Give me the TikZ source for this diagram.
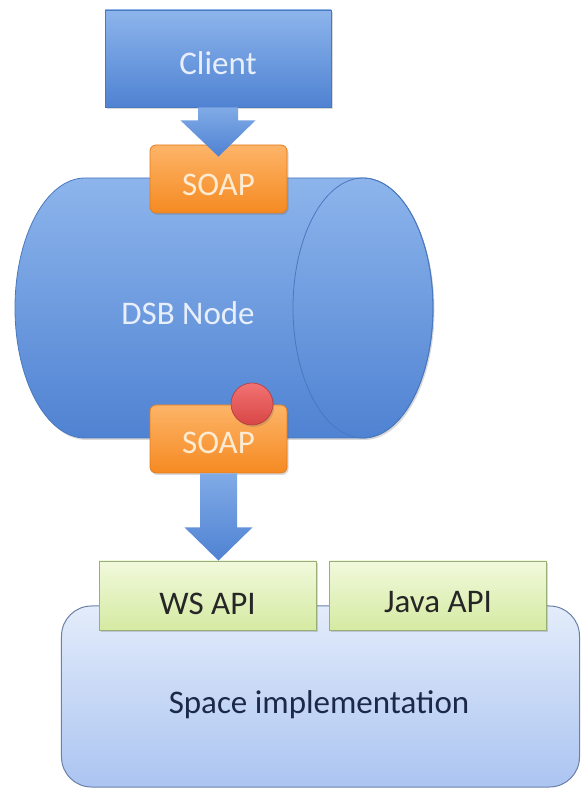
\documentclass[tikz,border=0pt]{standalone}
\usepackage{fontspec}
\setmainfont{Carlito}
\usetikzlibrary{calc,shadows}

\definecolor{bluetop}{HTML}{8DB5EC}
\definecolor{bluebot}{HTML}{4F82D2}
\definecolor{blueline}{HTML}{4A78BE}
\definecolor{bluetext}{HTML}{E8EFFA}
\definecolor{orangetop}{HTML}{FDB468}
\definecolor{orangebot}{HTML}{F58A22}
\definecolor{orangeline}{HTML}{E27C1E}
\definecolor{orangetext}{HTML}{FDEBD2}
\definecolor{greentop}{HTML}{F1F9DC}
\definecolor{greenbot}{HTML}{D5EAA2}
\definecolor{greenline}{HTML}{9AAE7A}
\definecolor{spacetop}{HTML}{E3ECFA}
\definecolor{spacebot}{HTML}{ABC4F1}
\definecolor{spaceline}{HTML}{6A80A8}
\definecolor{spacetext}{HTML}{1B2848}
\definecolor{redtop}{HTML}{F27272}
\definecolor{redbot}{HTML}{D84646}
\definecolor{redline}{HTML}{B53A3A}

\begin{document}
\begin{tikzpicture}[x=1bp,y=1bp,
  txt/.style={font=\fontsize{33bp}{40bp}\selectfont, inner sep=0pt},
  softshadow/.style={drop shadow={shadow xshift=1.5bp, shadow yshift=-2bp, opacity=0.25, fill=black!60}},
  bluebox/.style={draw=blueline, line width=0.8bp, top color=bluetop, bottom color=bluebot, softshadow},
  soapbox/.style={draw=orangeline, line width=0.8bp, top color=orangetop, bottom color=orangebot,
    rounded corners=6bp, minimum width=137bp, minimum height=68bp, softshadow},
  apibox/.style={draw=greenline, line width=0.8bp, top color=greentop, bottom color=greenbot,
    minimum width=217bp, minimum height=69bp, softshadow},
  spacebox/.style={draw=spaceline, line width=1bp, top color=spacetop, bottom color=spacebot,
    rounded corners=30bp, minimum width=518bp, minimum height=181bp},
  blockarrow/.style={top color=bluetop!80!bluebot, bottom color=bluebot, draw=none},
  flagdot/.style={circle, minimum size=42bp, inner sep=0pt, draw=redline, line width=0.6bp,
    top color=redtop, bottom color=redbot, softshadow},
]
\useasboundingbox (0,0) rectangle (581,788);

% DSB node: horizontal cylinder
\path[bluebox] (85,610) -- (363,610)
  arc[start angle=90, end angle=-90, x radius=70bp, y radius=130bp]
  -- (85,350)
  arc[start angle=270, end angle=90, x radius=70bp, y radius=130bp] -- cycle;
\draw[blueline, line width=0.8bp] (363,480) ellipse[x radius=70bp, y radius=130bp];
\node[txt, text=bluetext] (dsb) at (188,475) {DSB Node};

% SOAP adapters on the node
\node[soapbox] (soap1) at (218.5,609) {};
\node[txt, text=orangetext] (soap1t) at (218.5,603) {SOAP};

% client
\node[bluebox, minimum width=226bp, minimum height=97bp] (client) at (218,729.5) {};
\node[txt, text=bluetext] (clientt) at (218,725) {Client};

% client -> SOAP
\path[blockarrow]
  ($(client.south)+(-20,0)$) -- ++(0,-13) -- ++(-17.5,0)
  -- ($(soap1.north)+(0,-12)$)
  -- ($(client.south)+(37.5,-13)$) -- ++(-17.5,0) -- ++(0,13) -- cycle;

\node[soapbox] (soap2) at (218.5,349) {};
\node[txt, text=orangetext] (soap2t) at (218.5,345) {SOAP};
\node[flagdot] (flag) at (252,384) {};

% space implementation with its two APIs
\node[spacebox] (space) at (320.5,91.5) {};
\node[txt, text=spacetext] (spacet) at (319,83) {Space implementation};
\node[apibox] (ws) at (207.5,192.5) {};
\node[txt, text=black!85] (wst) at (207.5,184) {WS API};
\node[apibox] (java) at (438,192.5) {};
\node[txt, text=black!85] (javat) at (438,186) {Java API};

% SOAP -> WS API
\path[blockarrow]
  ($(soap2.south)+(-18.5,0)$) -- ++(0,-54) -- ++(-15.5,0)
  -- (soap2.south |- ws.north)
  -- ($(soap2.south)+(34,-54)$) -- ++(-15.5,0) -- ++(0,54) -- cycle;
\end{tikzpicture}
\end{document}
